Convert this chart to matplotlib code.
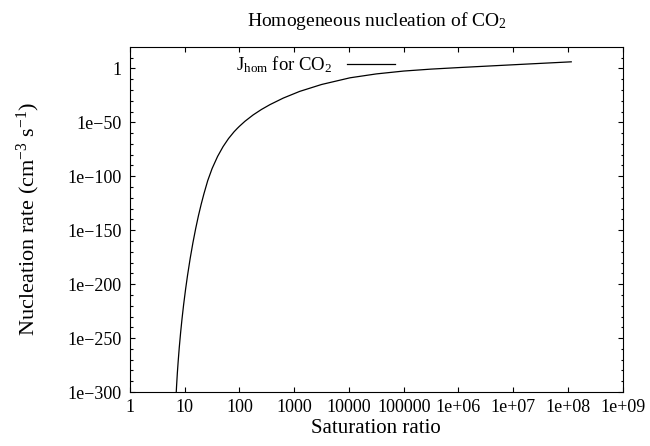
import matplotlib
matplotlib.use('Agg')
from matplotlib import pyplot as plt
from matplotlib.ticker import FixedLocator, NullLocator, NullFormatter

# values (saturation ratio, log10 of nucleation rate)
saturation = [7.00, 7.08, 7.33, 7.59, 7.94, 8.41, 8.91, 9.55, 10.38, 11.22,
              12.59, 14.13, 15.85, 17.78, 19.95, 22.39, 26.30, 31.62, 39.81, 50.12,
              63.10, 79.43, 91.20, 100, 125.9, 177.8, 251.2, 359.7, 631, 1259,
              3162, 10470, 31620, 1.0e5, 3.162e5, 1.0e6, 3.715e6, 1.995e7, 1.148e8]
log_rate = [-300, -295, -282.2, -271.4, -258.8, -244.8, -232.3, -218.8, -204.4, -192.2,
            -175.9, -161.4, -148.4, -136.6, -126, -116.3, -104, -92.8, -81.6, -72.5,
            -65, -58.8, -55.6, -53.6, -49, -43.1, -38.1, -33.6, -27.5, -21.3,
            -14.9, -8.7, -5.1, -2.45, -0.65, 0.75, 2.25, 4.15, 6.1]
rate = [10.0 ** v for v in log_rate]

xtick_vals = [1, 10, 100, 1000, 1e4, 1e5, 1e6, 1e7, 1e8, 1e9]
xtick_labels = ['1', '10', '100', '1000', '10000', '100000',
                '1e+06', '1e+07', '1e+08', '1e+09']
ytick_exp = [-300, -250, -200, -150, -100, -50, 0]
ytick_labels = ['1e\u2212300', '1e\u2212250', '1e\u2212200', '1e\u2212150',
                '1e\u2212100', '1e\u221250', '1']

matplotlib.rcParams.update({'font.family': 'Liberation Serif',
                            'mathtext.fontset': 'custom',
                            'mathtext.rm': 'Liberation Serif',
                            'mathtext.it': 'Liberation Serif:italic',
                            'font.size': 13,
                            'axes.linewidth': 0.8})

fig = plt.figure(figsize=(6.5, 4.46), dpi=100)
ax = fig.add_axes([0.2, 0.121, 0.758, 0.774])

ax.plot(saturation, rate, color='k', lw=0.9, label=r'J$_{\rm hom}$ for CO$_2$')

ax.set_xscale('log')
ax.set_yscale('log')
ax.set_xlim(1, 1e9)
ax.set_ylim(1e-300, 1e20)

ax.xaxis.set_major_locator(FixedLocator(xtick_vals))
ax.set_xticklabels(xtick_labels)
ax.xaxis.set_minor_locator(NullLocator())
ax.yaxis.set_major_locator(FixedLocator([10.0 ** e for e in ytick_exp]))
ax.set_yticklabels(ytick_labels)
ax.yaxis.set_minor_locator(FixedLocator([10.0 ** e for e in range(-290, 20, 10) if e % 50 != 0]))
ax.yaxis.set_minor_formatter(NullFormatter())

ax.tick_params(which='both', direction='in', top=True, right=True, width=0.8)
ax.tick_params(which='major', length=3.6)
ax.tick_params(axis='y', which='major', pad=6)
ax.tick_params(axis='x', which='major', pad=5)
ax.tick_params(which='minor', length=1.8)

ax.set_xlabel('Saturation ratio', fontsize=15, labelpad=2)
ax.set_ylabel(r'Nucleation rate (cm$^{-3}$ s$^{-1}$)', fontsize=16, labelpad=18)
fig.text(0.58, 0.952, r'Homogeneous nucleation of CO$_2$', ha='center', va='center', fontsize=14)

ax.legend(loc='upper left', bbox_to_anchor=(0.2, 1.0), frameon=False, fontsize=13.5,
          markerfirst=False, handlelength=2.6, handletextpad=0.75, borderaxespad=0.0)

plt.savefig('out.png', dpi=100)
